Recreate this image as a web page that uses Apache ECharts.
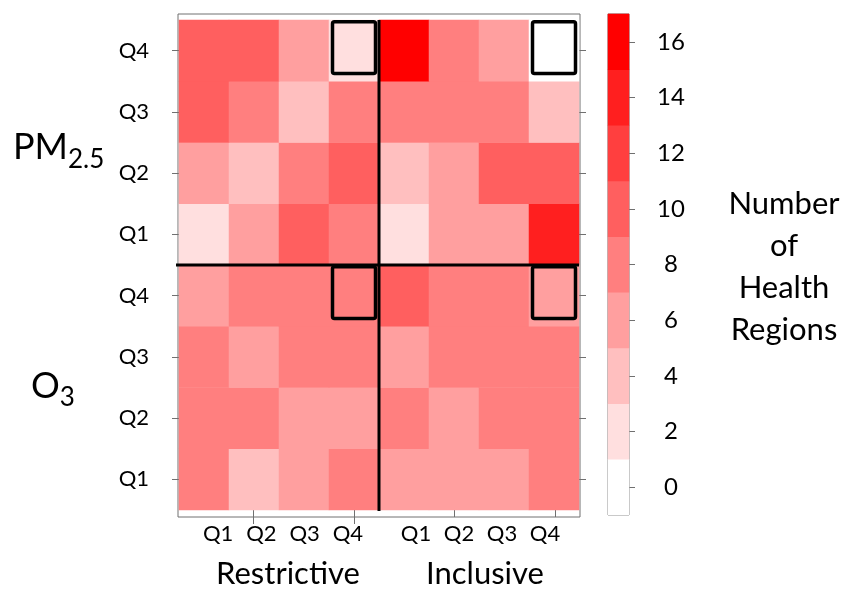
<!DOCTYPE html>
<html><head><meta charset="utf-8">
<script src="https://cdn.jsdelivr.net/npm/echarts@6/dist/echarts.min.js"></script>
<style>html,body{margin:0;padding:0;background:#fff}#c{width:859px;height:590px}</style>
</head><body><div id="c"></div>
<script>
// ---- categories / tick labels ----
const xCategories = ['Restrictive Q1','Restrictive Q2','Restrictive Q3','Restrictive Q4',
                     'Inclusive Q1','Inclusive Q2','Inclusive Q3','Inclusive Q4'];
const restrictiveTickLabels = ['Q1','Q2','Q3','Q4'];
const inclusiveTickLabels = ['Q1','Q2','Q3','Q4'];
const yCategories = ['O3 Q1','O3 Q2','O3 Q3','O3 Q4','PM2.5 Q1','PM2.5 Q2','PM2.5 Q3','PM2.5 Q4'];
const yTickLabels = ['Q1','Q2','Q3','Q4','Q1','Q2','Q3','Q4'];

// ---- values (columns follow xCategories) ----
const pm25Q4 = [10, 10, 6, 2, 15, 8, 5, 0];
const pm25Q3 = [10, 8, 4, 8, 8, 8, 8, 4];
const pm25Q2 = [6, 4, 8, 10, 3, 6, 9, 10];
const pm25Q1 = [2, 6, 10, 8, 2, 6, 6, 14];
const o3Q4   = [6, 8, 8, 8, 9, 8, 7, 6];
const o3Q3   = [8, 6, 8, 8, 6, 8, 8, 7];
const o3Q2   = [7, 8, 6, 6, 7, 6, 7, 8];
const o3Q1   = [7, 4, 6, 8, 6, 6, 6, 7];
const rowsBottomToTop = [o3Q1, o3Q2, o3Q3, o3Q4, pm25Q1, pm25Q2, pm25Q3, pm25Q4];

// highlighted cells [x category, y category]
const highlightedCells = [
  ['Restrictive Q4','PM2.5 Q4'], ['Inclusive Q4','PM2.5 Q4'],
  ['Restrictive Q4','O3 Q4'], ['Inclusive Q4','O3 Q4']
];
// divider between groups: first category of second group
const dividerAt = ['Inclusive Q1', 'PM2.5 Q1'];

// ---- colour scale ----
const colorBreaks = [0, 2, 4, 6, 8, 10, 12, 14, 16];
const pieceColors = ['#FFFFFF','#FFDFDF','#FFBFBF','#FF9F9F','#FF7F7F','#FF5F5F','#FF3F3F','#FF1F1F','#FF0000'];
const colorTickLabels = colorBreaks.map(String);

// ---- build ----
const heatData = [];
rowsBottomToTop.forEach((row, yi) => row.forEach((v, xi) => heatData.push([xi, yi, v])));
const boxData = highlightedCells.map(c => [xCategories.indexOf(c[0]), yCategories.indexOf(c[1])]);
const dividerData = [[xCategories.indexOf(dividerAt[0]), yCategories.indexOf(dividerAt[1])]];
const barData = colorBreaks.map((v, i) => [0, i, v]);
const pieces = colorBreaks.map((v, i) => ({gt: i === 0 ? -1 : colorBreaks[i-1], lte: v, color: pieceColors[i]}));

const FONT = 'Lato';
const GRAY = '#707070';
const chart = echarts.init(document.getElementById('c'), null, {renderer: 'canvas'});

chart.setOption({
  animation: false,
  textStyle: {fontFamily: FONT, color: '#000'},
  grid: [
    {left: 178, top: 14, width: 402, height: 503, show: true, borderColor: GRAY, borderWidth: 1, backgroundColor: 'transparent'},
    {left: 179, top: 20, width: 400, height: 490},
    {left: 196.5, top: 508, width: 173, height: 2},
    {left: 394.5, top: 508, width: 172, height: 2},
    {left: 608, top: 14, width: 21, height: 501, show: true, borderColor: GRAY, borderWidth: 1}
  ],
  xAxis: [
    {gridIndex: 0, type: 'category', data: xCategories, position: 'top',
     axisLine: {show: false}, axisLabel: {show: false}, splitLine: {show: false},
     axisTick: {show: true, alignWithLabel: true, length: 7, interval: i => i % 2 === 1, lineStyle: {color: GRAY}}},
    {gridIndex: 0, type: 'category', data: xCategories, position: 'bottom',
     axisLine: {show: false}, axisLabel: {show: false}, splitLine: {show: false},
     axisTick: {show: true, alignWithLabel: true, length: 7, interval: i => i === 1 || i === 3, lineStyle: {color: GRAY}}},
    {gridIndex: 1, type: 'category', data: xCategories, show: false},
    {gridIndex: 2, type: 'category', data: restrictiveTickLabels, position: 'bottom',
     axisLine: {show: false}, axisTick: {show: false},
     axisLabel: {fontSize: 22, color: '#000', margin: 14, fontFamily: FONT},
     name: 'Restrictive', nameLocation: 'middle', nameGap: 49,
     nameTextStyle: {fontSize: 31, color: '#000', fontFamily: FONT, padding: [0, 0, 0, 10]}},
    {gridIndex: 3, type: 'category', data: inclusiveTickLabels, position: 'bottom',
     axisLine: {show: false}, axisTick: {show: false},
     axisLabel: {fontSize: 22, color: '#000', margin: 14, fontFamily: FONT},
     name: 'Inclusive', nameLocation: 'middle', nameGap: 49,
     nameTextStyle: {fontSize: 31, color: '#000', fontFamily: FONT, padding: [0, 0, 0, 9]}},
    {gridIndex: 4, type: 'category', data: [''], show: false}
  ],
  yAxis: [
    {gridIndex: 0, type: 'value', show: false},
    {gridIndex: 1, type: 'category', data: yCategories, position: 'left',
     axisLine: {show: false}, splitLine: {show: false},
     axisTick: {show: true, alignWithLabel: true, length: 7, lineStyle: {color: GRAY}},
     axisLabel: {fontSize: 22, color: '#000', margin: 30, fontFamily: FONT, padding: [3, 0, 0, 0], formatter: (v, i) => yTickLabels[i]}},
    {gridIndex: 1, type: 'category', data: yCategories, position: 'right',
     axisLine: {show: false}, splitLine: {show: false}, axisLabel: {show: false},
     axisTick: {show: true, alignWithLabel: true, length: 7, lineStyle: {color: GRAY}}},
    {gridIndex: 2, type: 'value', show: false},
    {gridIndex: 3, type: 'value', show: false},
    {gridIndex: 4, type: 'category', data: colorTickLabels, position: 'right',
     axisLine: {show: false}, splitLine: {show: false},
     axisTick: {show: true, alignWithLabel: true, length: 6, lineStyle: {color: GRAY}},
     axisLabel: {fontSize: 24, color: '#000', margin: 42, align: 'center', fontFamily: FONT}}
  ],
  visualMap: {type: 'piecewise', show: false, seriesIndex: [0, 3], dimension: 2, pieces: pieces},
  series: [
    {type: 'heatmap', xAxisIndex: 2, yAxisIndex: 1, data: heatData, emphasis: {disabled: true}, itemStyle: {borderWidth: 0}},
    {type: 'custom', xAxisIndex: 2, yAxisIndex: 1, data: boxData, silent: true, z: 5,
     renderItem: function (params, api) {
       const c = api.coord([api.value(0), api.value(1)]);
       const s = api.size([1, 1]);
       return {type: 'rect',
         shape: {x: c[0] - s[0] / 2 + 3.5, y: c[1] - s[1] / 2 + 1.8, width: s[0] - 7, height: s[1] - 9.5, r: 2},
         style: {fill: 'none', stroke: '#000', lineWidth: 3.5}};
     }},
    {type: 'custom', xAxisIndex: 2, yAxisIndex: 1, data: dividerData, silent: true, z: 6,
     renderItem: function (params, api) {
       const c = api.coord([api.value(0), api.value(1)]);
       const s = api.size([1, 1]);
       const bx = c[0] - s[0] / 2;
       const by = c[1] + s[1] / 2;
       const cs = params.coordSys;
       return {type: 'group', children: [
         {type: 'line', shape: {x1: bx, y1: cs.y, x2: bx, y2: cs.y + cs.height + 1}, style: {stroke: '#000', lineWidth: 3}},
         {type: 'line', shape: {x1: cs.x - 3, y1: by, x2: cs.x + cs.width, y2: by}, style: {stroke: '#000', lineWidth: 3}}
       ]};
     }},
    {type: 'heatmap', xAxisIndex: 5, yAxisIndex: 5, data: barData, emphasis: {disabled: true}, silent: true}
  ],
  graphic: [
    {type: 'text', x: 13, y: 147, silent: true,
     style: {text: '{m|PM}{s|2.5}', verticalAlign: 'middle', fill: '#000',
       rich: {m: {fontSize: 36, fontFamily: FONT, fill: '#000'}, s: {fontSize: 26, fontFamily: FONT, fill: '#000', padding: [26, 0, 0, 0]}}}},
    {type: 'text', x: 31, y: 386, silent: true,
     style: {text: '{m|O}{s|3}', verticalAlign: 'middle', fill: '#000',
       rich: {m: {fontSize: 36, fontFamily: FONT, fill: '#000'}, s: {fontSize: 26, fontFamily: FONT, fill: '#000', padding: [24, 0, 0, 0]}}}},
    {type: 'text', x: 784, y: 266.5, silent: true,
     style: {text: 'Number\nof\nHealth\nRegions', align: 'center', verticalAlign: 'middle',
       fontSize: 31, lineHeight: 42, fontFamily: FONT, fill: '#000'}}
  ]
});
</script></body></html>
